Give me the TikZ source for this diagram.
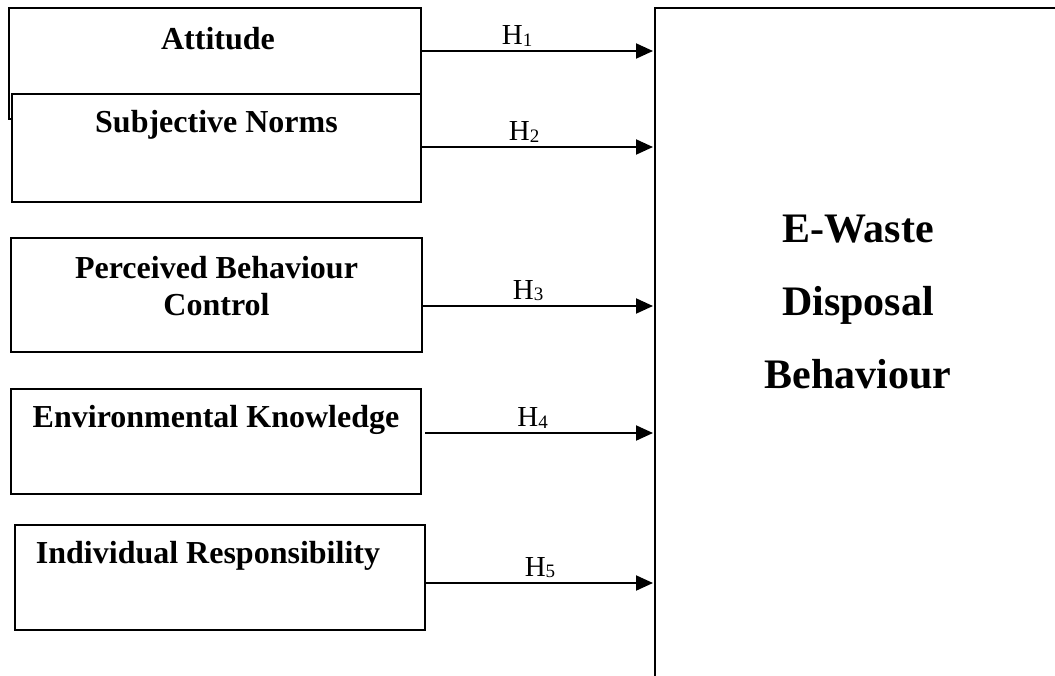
\documentclass[tikz,border=0pt]{standalone}
\usepackage{fontspec}
\setmainfont{Liberation Serif}
\usetikzlibrary{arrows.meta,positioning}

\begin{document}
\begin{tikzpicture}[
  x=1pt, y=-1pt,
  flow/.style={-{Triangle[length=17pt,width=15pt]}, line width=2pt, shorten >=1pt},
  factor/.style={
    draw,
    line width=2pt,
    fill=white,
    inner sep=0pt,
    anchor=north west
  },
  factortext/.style={font=\bfseries\fontsize{32}{37}\selectfont, inner sep=0pt, align=center},
  outcome/.style={
    draw,
    line width=2pt,
    inner sep=0pt,
    anchor=north west,
    minimum width=460pt,
    minimum height=720pt
  },
  outcometext/.style={font=\bfseries\fontsize{42}{73}\selectfont, inner sep=0pt, align=center},
  hyp/.style={above=4pt, inner sep=0pt, font=\fontsize{29}{30}\selectfont}
]
\useasboundingbox (0,0) rectangle (1055,675);
\clip (0,0) rectangle (1055,675);

\node[factor, minimum width=412pt, minimum height=111pt] (att) at (8,7) {};
\node[factor, minimum width=409pt, minimum height=108pt] (sn) at (11,93) {};
\node[factor, minimum width=411pt, minimum height=114pt] (pbc) at (10,237) {};
\node[factor, minimum width=410pt, minimum height=105pt] (ek) at (10,388) {};
\node[factor, minimum width=410pt, minimum height=105pt] (ir) at (14,524) {};

\node[factortext, anchor=base] (atttext) at ([xshift=3pt,yshift=-42pt]att.north) {Attitude};
\node[factortext, anchor=base] (sntext) at ([yshift=-39pt]sn.north) {Subjective Norms};
\node[factortext] (pbctext) at ([yshift=9pt]pbc.center) {Perceived Behaviour\\Control};
\node[factortext, anchor=base] (ektext) at ([yshift=-39pt]ek.north) {Environmental Knowledge};
\node[factortext, anchor=base] (irtext) at ([xshift=-12pt,yshift=-39pt]ir.north) {Individual Responsibility};

\node[outcome] (dv) at (654,7) {};
\node[outcometext] (dvtext) at (858,302) {E-Waste\\Disposal\\Behaviour};

\coordinate (h1) at ([yshift=12.5pt]att.east);
\coordinate (h2) at ([yshift=1pt]sn.east);
\coordinate (h3) at ([yshift=-11pt]pbc.east);
\coordinate (h4) at ([xshift=3pt,yshift=8.5pt]ek.east);
\coordinate (h5) at ([yshift=-5.5pt]ir.east);
\draw[flow] (h1) -- (h1 -| dv.west) node[hyp, pos=0.41] {H{\fontsize{19}{19}\selectfont\raisebox{-1.5pt}{1}}};
\draw[flow] (h2) -- (h2 -| dv.west) node[hyp, pos=0.44] {H{\fontsize{19}{19}\selectfont\raisebox{-1.5pt}{2}}};
\draw[flow] (h3) -- (h3 -| dv.west) node[hyp, pos=0.455] {H{\fontsize{19}{19}\selectfont\raisebox{-1.5pt}{3}}};
\draw[flow] (h4) -- (h4 -| dv.west) node[hyp, pos=0.47] {H{\fontsize{19}{19}\selectfont\raisebox{-1.5pt}{4}}};
\draw[flow] (h5) -- (h5 -| dv.west) node[hyp, pos=0.50] {H{\fontsize{19}{19}\selectfont\raisebox{-1.5pt}{5}}};

\end{tikzpicture}
\end{document}
